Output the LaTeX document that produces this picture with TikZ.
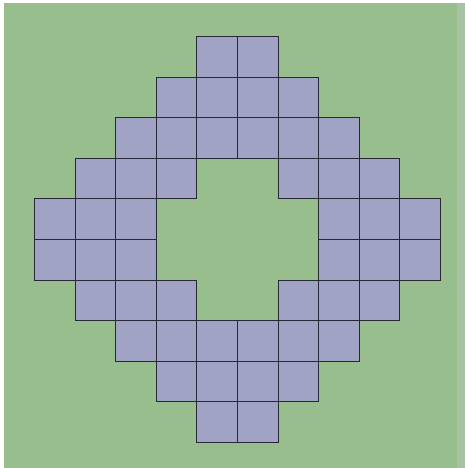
\documentclass[tikz,border=0pt]{standalone}
\usetikzlibrary{calc}

\definecolor{lawn}{HTML}{98BE8E}
\definecolor{lawnedge}{HTML}{A9C2A5}
\definecolor{tile}{HTML}{A1A3C5}
\definecolor{tileline}{HTML}{262836}

\begin{document}
\begin{tikzpicture}[
    x=1pt, y=-1pt,
    tilebox/.style={draw=tileline, fill=tile, line width=1.4pt},
    cellsize/.store in=\cs, cellsize=40.6
  ]
  \useasboundingbox (0,0) rectangle (465,468);
  \fill[white] (0,0) rectangle (465,468);
  \fill[lawnedge] (457,3) rectangle (465,468);
  \fill[lawn] (4,3) rectangle (457,468);

  \foreach \r in {0,...,9} {
    \foreach \c in {0,...,9} {
      \pgfmathtruncatemacro\dist{abs(\c-4.5)+abs(\r-4.5)}
      \ifnum\dist>2 \ifnum\dist<6
        \pgfmathsetmacro\xa{round(34+\c*\cs)+0.5}
        \pgfmathsetmacro\xb{round(34+(\c+1)*\cs)+0.5}
        \pgfmathsetmacro\ya{round(36+\r*\cs)+0.5}
        \pgfmathsetmacro\yb{round(36+(\r+1)*\cs)+0.5}
        \draw[tilebox] (\xa,\ya) rectangle (\xb,\yb);
      \fi\fi
    }
  }
\end{tikzpicture}
\end{document}
